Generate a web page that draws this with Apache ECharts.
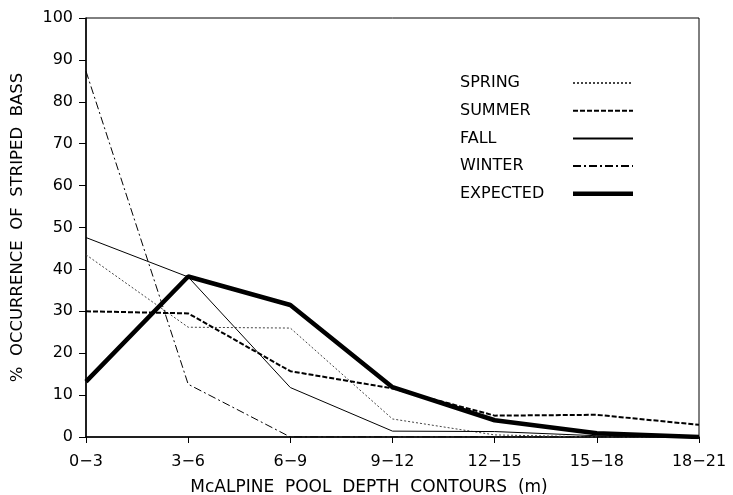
<!DOCTYPE html>
<html>
<head>
<meta charset="utf-8">
<script src="https://cdn.jsdelivr.net/npm/echarts@6/dist/echarts.min.js"></script>
<style>
  html, body { margin: 0; padding: 0; background: #fff; }
  #chart { width: 733px; height: 495px; }
</style>
</head>
<body>
<div id="chart"></div>
<script>
// depth contour classes (m)
const depths = ['0−3', '3−6', '6−9', '9−12', '12−15', '15−18', '18−21']
const spring = [43.5, 26.2, 26, 4.3, 0.5, 0, 0]
const summer = [30, 29.5, 15.7, 11.6, 5.1, 5.3, 2.9]
const fall = [47.6, 38.2, 11.8, 1.4, 1.3, 0.3, 0]
const winter = [87.3, 12.6, 0, 0, 0, 0, 0]
const expected = [13.2, 38.3, 31.5, 11.9, 4, 0.9, 0]
const seasons = ['SPRING', 'SUMMER', 'FALL', 'WINTER', 'EXPECTED']

const font = 'DejaVu Sans'
const chart = echarts.init(document.getElementById('chart'))

function mkLine(name, data, width, type, color) {
  return {
    name: name,
    type: 'line',
    data: data,
    symbol: 'none',
    lineStyle: { color: color || '#000', width: width, type: type },
    itemStyle: { color: color || '#000' },
  }
}

chart.setOption({
  animation: false,
  grid: {
    left: 86, right: 34, top: 18, bottom: 58,
    outerBoundsMode: 'none',
    show: true, borderColor: '#000', borderWidth: 1,
  },
  legend: {
    orient: 'vertical',
    left: 455,
    top: 70,
    align: 'right',
    itemWidth: 60,
    itemHeight: 12,
    itemGap: 11.7,
    itemStyle: { opacity: 0 },
    formatter: '{t|{name}}',
    textStyle: {
      color: '#000',
      rich: { t: { fontFamily: font, fontSize: 16, color: '#000', width: 108, align: 'left' } },
    },
    data: seasons.map(function (s) {
      return s === 'EXPECTED' ? { name: s, lineStyle: { width: 4.5 } } : { name: s }
    }),
  },
  xAxis: {
    type: 'category',
    data: depths,
    boundaryGap: false,
    name: 'McALPINE  POOL  DEPTH  CONTOURS  (m)',
    nameLocation: 'middle',
    nameGap: 42,
    nameTextStyle: { fontFamily: font, fontSize: 17, color: '#000', padding: [0, 47, 0, 0] },
    axisLine: { lineStyle: { color: '#000', width: 1.5 } },
    axisTick: { length: 6, lineStyle: { color: '#000' } },
    axisLabel: { fontFamily: font, fontSize: 16, color: '#000', margin: 17 },
    splitLine: { show: false },
  },
  yAxis: {
    type: 'value',
    min: 0,
    max: 100,
    interval: 10,
    name: '%  OCCURRENCE  OF  STRIPED  BASS',
    nameLocation: 'middle',
    nameGap: 60,
    nameTextStyle: { fontFamily: font, fontSize: 16.5, color: '#000' },
    axisLine: { show: true, lineStyle: { color: '#000', width: 1.5 } },
    axisTick: { show: true, length: 7, lineStyle: { color: '#000' } },
    axisLabel: { fontFamily: font, fontSize: 16, color: '#000', margin: 13 },
    splitLine: { show: false },
  },
  series: [
    mkLine('SPRING', spring, 1, [2, 2], '#444'),
    mkLine('SUMMER', summer, 2, [5, 2]),
    mkLine('FALL', fall, 1, 'solid'),
    mkLine('WINTER', winter, 1, [8, 3, 2, 3]),
    mkLine('EXPECTED', expected, 4.5, 'solid'),
  ],
})
</script>
</body>
</html>
